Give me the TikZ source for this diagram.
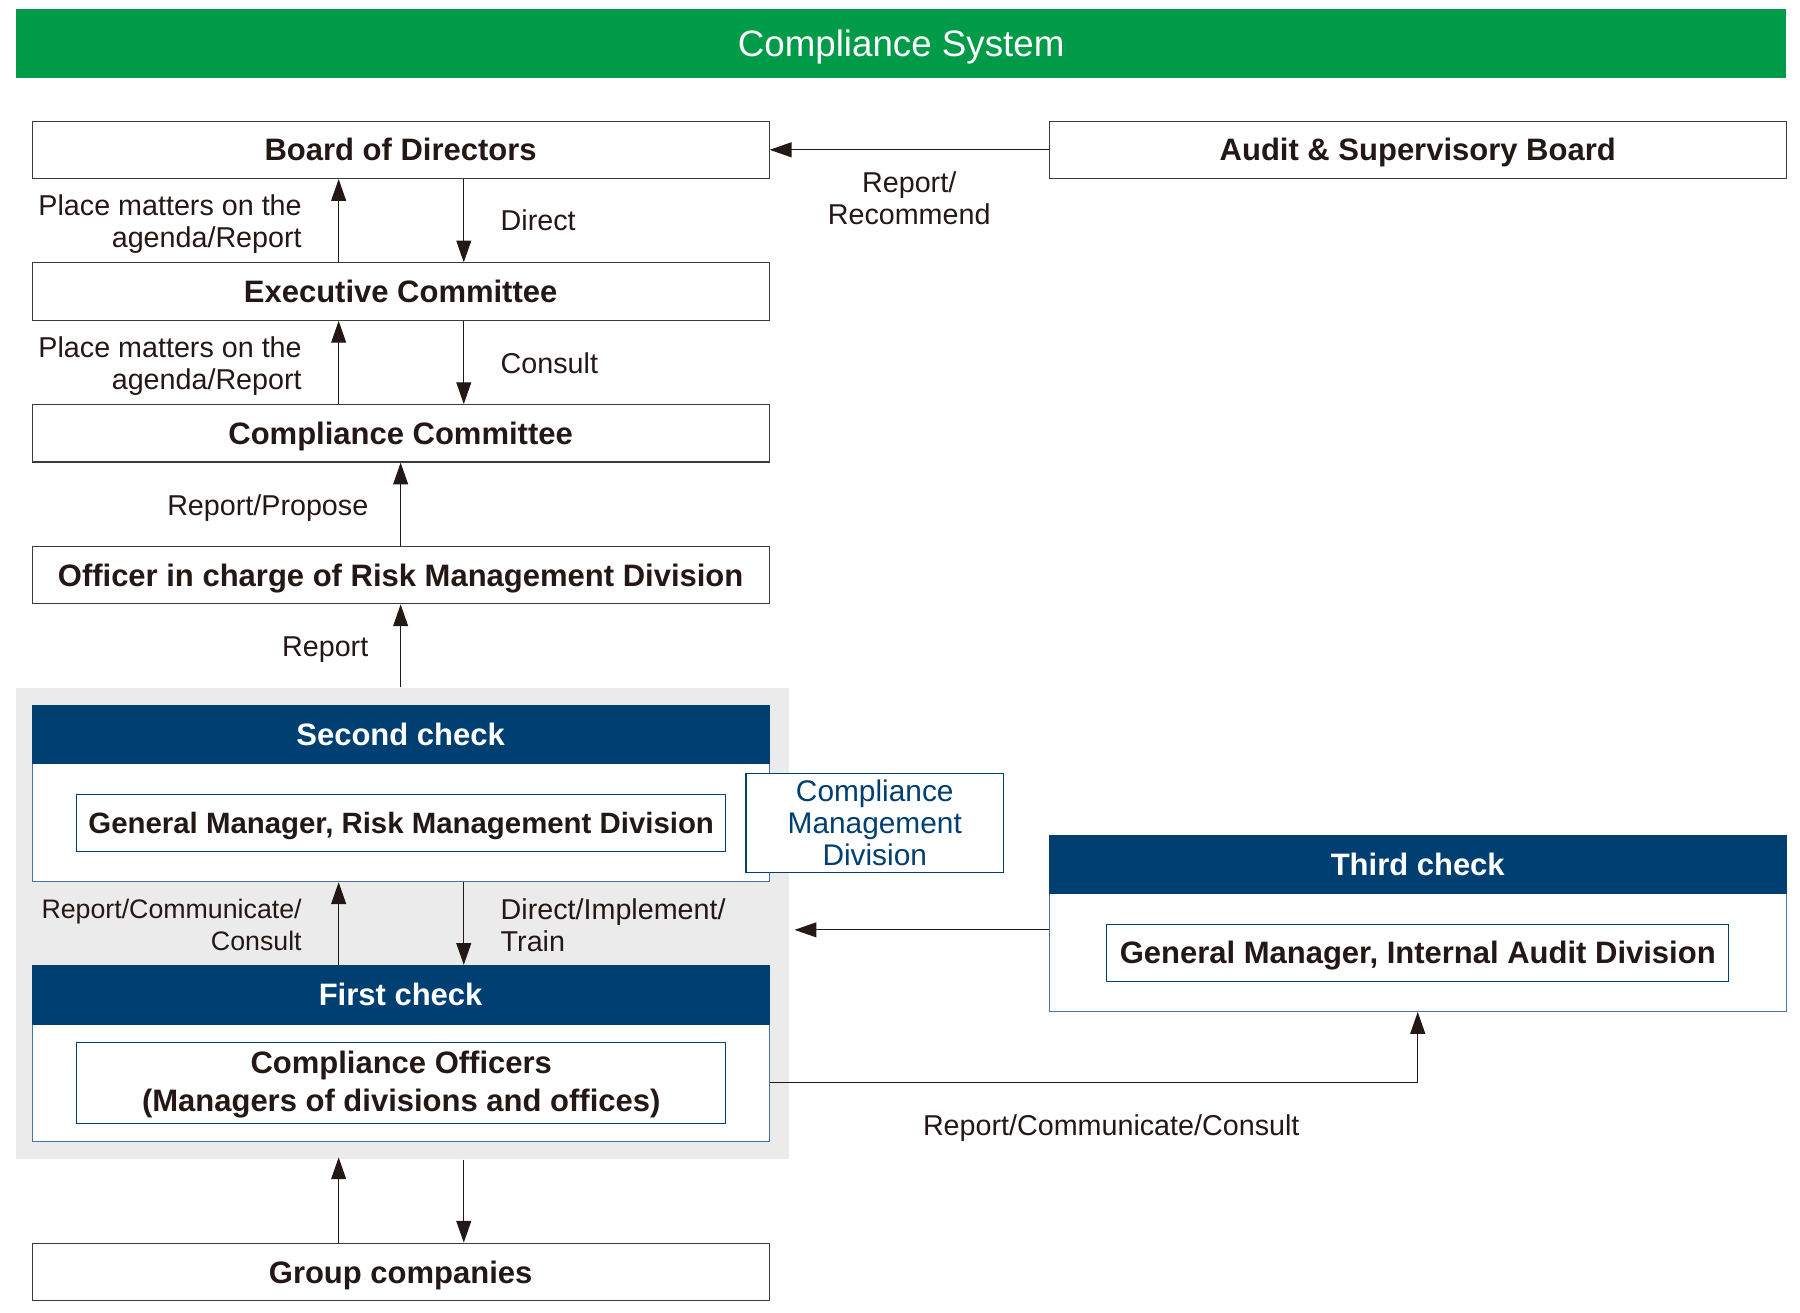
\documentclass[tikz,border=0pt]{standalone}
\usepackage{fontspec}
\setmainfont{Liberation Sans}
\usetikzlibrary{arrows.meta,calc}
\definecolor{cgreen}{HTML}{009B48}
\definecolor{cnavy}{HTML}{003F72}
\definecolor{cline}{HTML}{4573A6}
\definecolor{cink}{HTML}{231815}
\definecolor{cgray}{HTML}{EBEBEB}
\definecolor{cframe}{HTML}{3E3A39}
\begin{document}
\begin{tikzpicture}[x=1pt,y=-1pt,
 box/.style={draw=cframe, line width=1pt, fill=white, minimum width=642pt, minimum height=50pt, inner sep=0pt, text height=19.3pt, text depth=0pt, font=\bfseries\fontsize{27}{30}\selectfont, text=cink},
 head/.style={fill=cnavy, draw=cnavy, line width=1pt, minimum width=642pt, minimum height=50pt, inner sep=0pt, text height=19.3pt, text depth=0pt, text=white, font=\bfseries\fontsize{27}{30}\selectfont},
 body/.style={draw=cline, line width=1pt, fill=white, minimum width=642pt, inner sep=0pt},
 innerbox/.style={draw=cnavy, line width=0.9pt, fill=white, inner sep=0pt, align=center, text=cink, font=\bfseries\fontsize{27}{33}\selectfont},
 lbl/.style={inner sep=0pt, text=cink, font=\fontsize{25}{28}\selectfont},
 arr/.style={draw=cink, line width=1pt, -{Triangle[length=19pt,width=13pt]}},
]
\useasboundingbox (0,0) rectangle (1568,1143);

% title
\node[fill=cgreen, minimum width=1542pt, minimum height=60pt, inner sep=0pt, text height=22.9pt, text depth=0pt, text=white, font=\fontsize{32}{36}\selectfont] (title) at (785,38) {Compliance System};

% x positions for vertical connectors
\coordinate (xl) at (295,0);
\coordinate (xc) at (349,0);
\coordinate (xr) at (404,0);
\coordinate (ya) at (0,810);
\coordinate (yb) at (0,943);

% top chain
\node[box] (bod) at (349,130.5) {Board of Directors};
\node[box] (asb) at (1235,130.5) {Audit \& Supervisory Board};
\node[box] (exec) at (349,254) {Executive Committee};
\node[box] (cc) at (349,377.5) {Compliance Committee};
\node[box] (officer) at (349,501) {Officer in charge of Risk Management Division};

% grey zone
\node[fill=cgray, minimum width=673pt, minimum height=411pt, inner sep=0pt] (zone) at (350.5,804.5) {};

% second check
\node[body, minimum height=103pt] (secbody) at (349,716.5) {};
\node[head] (sechead) at (349,640) {Second check};
\node[innerbox, minimum width=565pt, minimum height=50pt, text height=18.3pt, text depth=0pt, font=\bfseries\fontsize{25.6}{30}\selectfont] (gmrisk) at (349.5,717) {General Manager, Risk Management Division};
\node[draw=cnavy, line width=1.2pt, fill=white, minimum width=224pt, minimum height=86pt, inner sep=0pt, align=center, text=cnavy, font=\fontsize{26}{28}\selectfont] (cmd) at (762,717) {Compliance\\Management\\Division};

% first check
\node[body, minimum height=102pt] (firstbody) at (349,943) {};
\node[head, minimum height=51pt] (firsthead) at (349,866.5) {First check};
\node[innerbox, minimum width=565pt, minimum height=71pt] (officers) at (349.5,943.5) {\rule{0pt}{22pt}Compliance Officers\\(Managers of divisions and offices)};

% third check
\node[body, minimum height=103pt] (thirdbody) at (1235,829.5) {};
\node[head] (thirdhead) at (1235,753) {Third check};
\node[innerbox, minimum width=542pt, minimum height=50pt, text height=19.3pt, text depth=0pt] (gmaudit) at (1235,830) {General Manager, Internal Audit Division};

% group companies
\node[box] (group) at (349,1108) {Group companies};

% connectors
\draw[arr] (asb.west) -- (bod.east);
\draw[arr] (exec.north -| xl) -- (bod.south -| xl);
\draw[arr] (bod.south -| xr) -- (exec.north -| xr);
\draw[arr] (cc.north -| xl) -- (exec.south -| xl);
\draw[arr] (exec.south -| xr) -- (cc.north -| xr);
\draw[arr] (officer.north) -- (cc.south);
\draw[arr] (zone.north -| xc) -- (officer.south);
\draw[arr] (firsthead.north -| xl) -- (secbody.south -| xl);
\draw[arr] (secbody.south -| xr) -- (firsthead.north -| xr);
\draw[arr, shorten >=5pt] (thirdbody.west |- ya) -- (zone.east |- ya);
\draw[arr] (firstbody.east |- yb) -| (thirdbody.south);
\draw[arr, shorten >=-2pt] (group.north -| xl) -- (zone.south -| xl);
\draw[arr] (zone.south -| xr) -- (group.north -| xr);

% labels
\node[lbl, align=center] (l1) at (792,173) {Report/\\Recommend};
\node[lbl, align=right, anchor=east] (l2) at (263,195) {Place matters on the\\agenda/Report};
\node[lbl, anchor=west] (l3) at (436,192) {Direct};
\node[lbl, align=right, anchor=east] (l4) at (263,319) {Place matters on the\\agenda/Report};
\node[lbl, anchor=west] (l5) at (436,316) {Consult};
\node[lbl, anchor=east] (l6) at (321,442.5) {Report/Propose};
\node[lbl, anchor=east] (l7) at (321,565.5) {Report};
\node[lbl, align=right, anchor=east, font=\fontsize{23.3}{28}\selectfont] (l8) at (263,806) {Report/Communicate/\\Consult};
\node[lbl, align=left, anchor=west] (l9) at (436,806) {Direct/Implement/\\Train};
\node[lbl] (l10) at (968,982.5) {Report/Communicate/Consult};
\end{tikzpicture}
\end{document}
